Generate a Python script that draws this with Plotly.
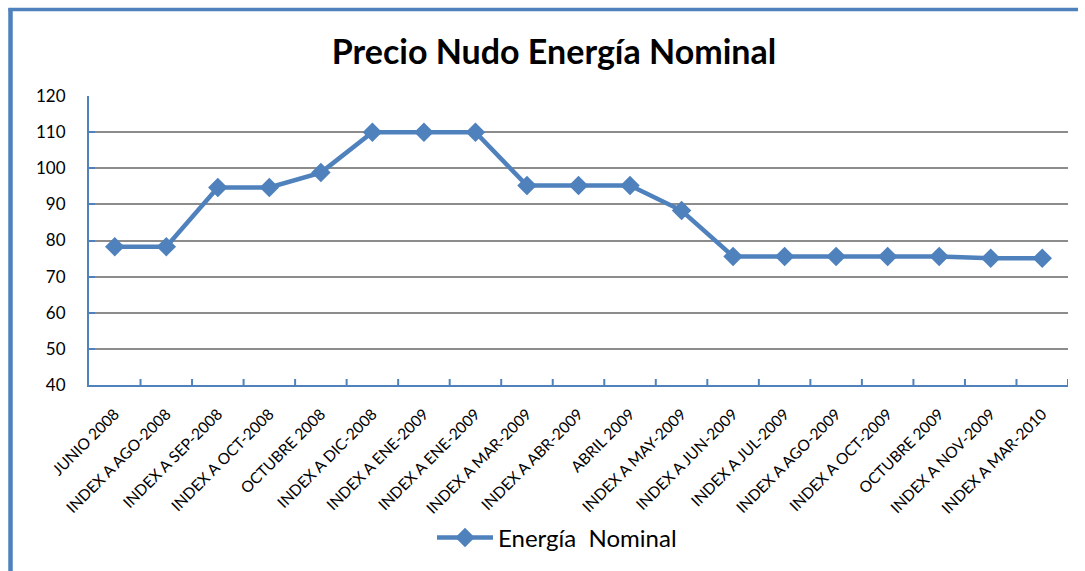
import plotly.graph_objects as go

categories = [
    "JUNIO 2008", "INDEX A AGO-2008", "INDEX A SEP-2008", "INDEX A OCT-2008",
    "OCTUBRE 2008", "INDEX A DIC-2008", "INDEX A ENE-2009", "INDEX A ENE-2009 ",
    "INDEX A MAR-2009", "INDEX A ABR-2009", "ABRIL 2009", "INDEX A MAY-2009",
    "INDEX A JUN-2009", "INDEX A JUL-2009", "INDEX A AGO-2009", "INDEX A OCT-2009",
    "OCTUBRE 2009", "INDEX A NOV-2009", "INDEX A MAR-2010",
]
values = [78.3, 78.3, 94.7, 94.7, 98.8, 110.0, 110.0, 110.0, 95.2, 95.2, 95.2,
          88.3, 75.6, 75.6, 75.6, 75.6, 75.6, 75.1, 75.1]
series_name = "Energía  Nominal"
title_text = "Precio Nudo Energía Nominal"
y_ticks = [40, 50, 60, 70, 80, 90, 100, 110, 120]

BLUE = "#4F81BD"
FONT = "Lato"

fig = go.Figure()
fig.add_trace(go.Scatter(
    x=list(range(len(categories))), y=values, name=series_name,
    mode="lines+markers",
    line=dict(color=BLUE, width=4.5),
    marker=dict(symbol="diamond", size=15, color=BLUE),
))

W, H = 1085, 571
L, R, T, B = 89, 17, 96, 186
pw, ph = W - L - R, H - T - B

def px_to_paper_x(px):
    return (px - L) / pw

def px_to_paper_y(py):
    return (H - B - py) / ph

fig.update_layout(
    width=W, height=H,
    margin=dict(l=L, r=R, t=T, b=B, autoexpand=False),
    paper_bgcolor="white", plot_bgcolor="white",
    font=dict(family=FONT, color="#000000"),
    title=dict(text="<b>" + title_text + "</b>", font=dict(size=34, family=FONT, color="#000"),
               x=554 / W, xanchor="center", y=1 - 52 / H, yanchor="middle", xref="container", yref="container"),
    showlegend=True,
    legend=dict(orientation="h", x=px_to_paper_x(557), xanchor="center",
                y=px_to_paper_y(538), yanchor="middle",
                font=dict(size=24, family=FONT, color="#000"), itemwidth=56),
    xaxis=dict(
        tickmode="array", tickvals=list(range(len(categories))), ticktext=[c.strip() for c in categories],
        range=[-0.5, len(categories) - 0.5],
        showgrid=False, zeroline=False, automargin=False,
        showline=True, linecolor=BLUE, linewidth=2,
        tickangle=-45, tickfont=dict(size=15.5, family=FONT, color="#000"),
        ticks="", ticklabelstandoff=12,
    ),
    yaxis=dict(
        range=[40, 120], tickvals=y_ticks, automargin=False,
        showgrid=True, gridcolor="#8C8C8C", gridwidth=1.5,
        zeroline=False,
        showline=True, linecolor=BLUE, linewidth=2,
        ticks="inside", tickcolor=BLUE, ticklen=6, tickwidth=2,
        tickfont=dict(size=17, family=FONT, color="#000"),
        ticklabelstandoff=18,
    ),
)

# category boundary ticks on x axis (inside)
for i in range(1, len(categories) + 1):
    fig.add_shape(type="line", xref="x", yref="paper",
                  x0=i - 0.5, x1=i - 0.5, y0=0, y1=6 / ph,
                  line=dict(color=BLUE, width=2))

# outer frame: left and top edges only are visible
fig.add_shape(type="line", xref="paper", yref="paper",
              x0=px_to_paper_x(10.5), x1=px_to_paper_x(10.5),
              y0=px_to_paper_y(H), y1=px_to_paper_y(8),
              line=dict(color=BLUE, width=4.5), layer="above")
fig.add_shape(type="line", xref="paper", yref="paper",
              x0=px_to_paper_x(8.5), x1=px_to_paper_x(1078),
              y0=px_to_paper_y(9.5), y1=px_to_paper_y(9.5),
              line=dict(color=BLUE, width=3.5), layer="above")

fig.write_html("out.html", config={"displayModeBar": False},
               post_script="document.body.style.margin='0';document.body.style.overflow='hidden';")
